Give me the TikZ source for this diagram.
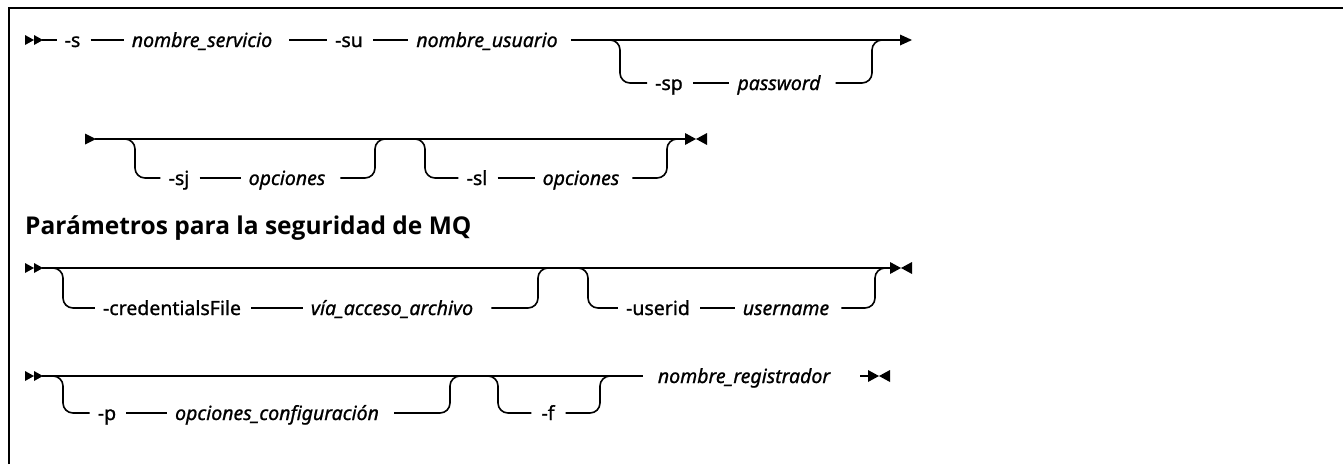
\documentclass[tikz,border=0pt]{standalone}
\usepackage{fontspec}
\setmainfont{Noto Sans}
\newfontfamily\railfont{Noto Sans}[FakeBold=1.0]
\newfontfamily\titlefont{Open Sans}
\begin{document}
\begin{tikzpicture}[x=1pt,y=-1pt,
  rail/.style={line width=1.6pt},
  kw/.style={inner sep=0pt, text height=14pt, text depth=0pt, font=\railfont\fontsize{19.5}{22}\selectfont},
  var/.style={kw, font=\railfont\fontsize{19.5}{22}\selectfont\itshape},
  gapR/.style={rail, shorten <=10pt, shorten >=8pt},
  gapI/.style={rail, shorten <=17pt, shorten >=8pt},
  br/.style={rail, rounded corners=10pt},
  startmark/.pic={\fill (0,-5) -- (9,0) -- (0,5) -- cycle; \fill (9,-5) -- (18,0) -- (9,5) -- cycle;},
  arrowmark/.pic={\fill (0,-5.5) -- (12,0) -- (0,5.5) -- cycle;},
  endmark/.pic={\fill (0,-6) -- (11,0) -- (0,6) -- cycle; \fill (22,-6) -- (11,0) -- (22,6) -- cycle;}
]
\useasboundingbox (0,0) rectangle (1343,464);
% frame
\draw[line width=2.5pt] (9,464) -- (9,8) -- (1343,8);

% ---------- row 1 ----------
\coordinate (r1a) at (25,40);
\pic at (r1a) {startmark};
\node[kw] (s) at (72.5,40) {-s};
\draw[rail, shorten >=7pt] ([xshift=17pt]r1a) -- (s.west);
\node[var] (ns) at (202,40) {nombre\_servicio};
\draw[gapR] (s.east) -- (ns.west);
\node[kw] (su) at (349,40) {-su};
\draw[gapI] (ns.east) -- (su.west);
\node[var] (nu) at (487,40) {nombre\_usuario};
\draw[gapR] (su.east) -- (nu.west);
\coordinate (r1e) at (900,40);
\draw[rail, shorten <=13pt] (nu.east) -- (r1e);
\pic at (r1e) {arrowmark};
\node[kw] (sp) at (669,83) {-sp};
\node[var] (pw) at (779,83) {password};
\draw[gapR] (sp.east) -- (pw.west);
\coordinate (j1a) at (600,40);
\coordinate (j1b) at (886,40);
\draw[br, shorten >=8pt] (j1a) -- (620,40) -- (620,83) -- (sp.west);
\draw[br, shorten <=15pt] (pw.east) -- (872,83) -- (872,40) -- (j1b);

% ---------- row 2 ----------
\coordinate (r2a) at (85,139);
\fill (r2a) +(0,-5.5) -- +(11,0) -- +(0,5.5) -- cycle;
\coordinate (r2e) at (685,139);
\draw[rail] ([xshift=10pt]r2a) -- (r2e);
\pic at (r2e) {endmark};
\node[kw] (sj) at (179,178) {-sj};
\node[var] (o1) at (287,178) {opciones};
\draw[gapR] (sj.east) -- (o1.west);
\coordinate (j2a) at (120,139);
\coordinate (j2b) at (390,139);
\draw[br, shorten >=8pt] (j2a) -- (135,139) -- (135,178) -- (sj.west);
\draw[br, shorten <=15pt] (o1.east) -- (375,178) -- (375,139) -- (j2b);
\node[kw] (sl) at (477,178) {-sl};
\node[var] (o2) at (581,178) {opciones};
\draw[gapR] (sl.east) -- (o2.west);
\coordinate (j3a) at (410,139);
\coordinate (j3b) at (682,139);
\draw[br, shorten >=8pt] (j3a) -- (425,139) -- (425,178) -- (sl.west);
\draw[br, shorten <=13pt] (o2.east) -- (667,178) -- (667,139) -- (j3b);

% ---------- title ----------
\node[anchor=base west, inner sep=0pt, font=\titlefont\fontsize{24.5}{28}\selectfont\bfseries] (title) at (25,234) {Parámetros para la seguridad de MQ};

% ---------- row 3 ----------
\coordinate (r3a) at (25,268);
\pic at (r3a) {startmark};
\coordinate (r3e) at (890,268);
\draw[rail] ([xshift=17pt]r3a) -- (r3e);
\pic at (r3e) {endmark};
\node[kw] (cf) at (172,308) {-credentialsFile};
\node[var] (va) at (392,308) {vía\_acceso\_archivo};
\draw[gapR] (cf.east) -- (va.west);
\coordinate (j4a) at (48,268);
\coordinate (j4b) at (552,268);
\draw[br, shorten >=8pt] (j4a) -- (63,268) -- (63,308) -- (cf.west);
\draw[br, shorten <=18pt] (va.east) -- (538,308) -- (538,268) -- (j4b);
\node[kw] (ui) at (658,308) {-userid};
\node[var] (un) at (786,308) {username};
\draw[gapR] (ui.east) -- (un.west);
\coordinate (j5a) at (573,268);
\coordinate (j5b) at (889,268);
\draw[br, shorten >=8pt] (j5a) -- (588,268) -- (588,308) -- (ui.west);
\draw[br, shorten <=12pt] (un.east) -- (875,308) -- (875,268) -- (j5b);

% ---------- row 4 ----------
\coordinate (r4a) at (25,376);
\pic at (r4a) {startmark};
\node[var] (nr) at (744,376) {nombre\_registrador};
\draw[rail, shorten >=15pt] ([xshift=17pt]r4a) -- (nr.west);
\coordinate (r4e) at (868,376);
\draw[rail] ([xshift=-8pt]r4e) -- (r4e);
\pic at (r4e) {endmark};
\node[kw] (p) at (107,413) {-p};
\node[var] (oc) at (277,413) {opciones\_configuración};
\draw[gapR] (p.east) -- (oc.west);
\coordinate (j6a) at (48,376);
\coordinate (j6b) at (464,376);
\draw[br, shorten >=8pt] (j6a) -- (63,376) -- (63,413) -- (p.west);
\draw[br, shorten <=15pt] (oc.east) -- (450,413) -- (450,376) -- (j6b);
\node[kw] (f) at (548,413) {-f};
\coordinate (j7a) at (483,376);
\coordinate (j7b) at (614,376);
\draw[br, shorten >=10pt] (j7a) -- (498,376) -- (498,413) -- (f.west);
\draw[br, shorten <=11pt] (f.east) -- (600,413) -- (600,376) -- (j7b);
\end{tikzpicture}
\end{document}
